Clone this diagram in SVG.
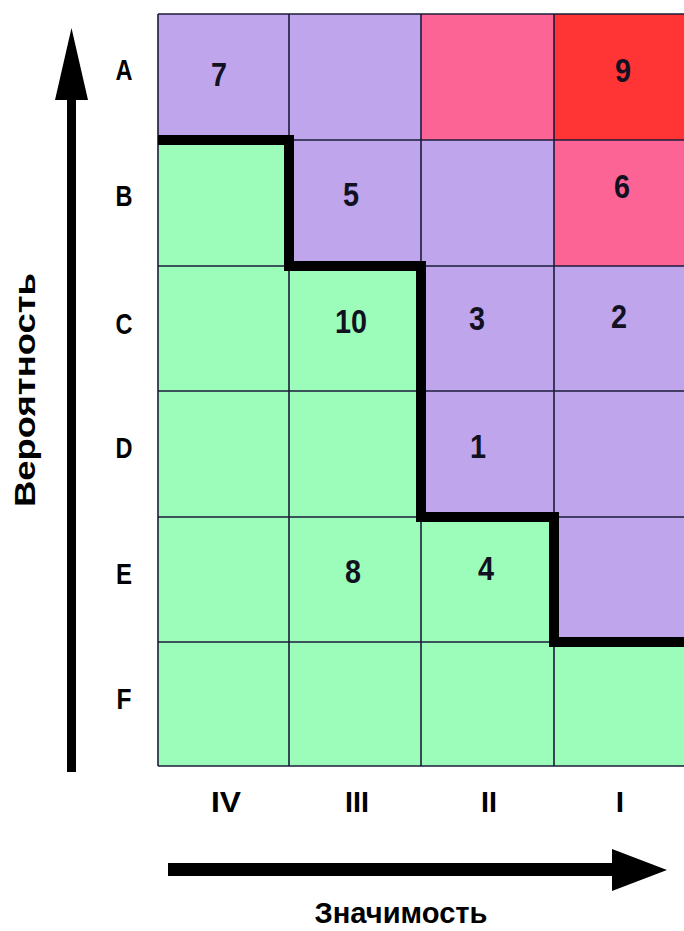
<svg xmlns="http://www.w3.org/2000/svg" width="684" height="931" viewBox="0 0 684 931">
<style>
.p{fill:#BEA5EC}.g{fill:#9BFDB9}.k{fill:#FC6496}.r{fill:#FF3434}
.grid{stroke:#1c1c3a;stroke-width:1.6;fill:none}
.num{font-family:"Liberation Sans",Arial,sans-serif;font-weight:bold;font-size:34px;fill:#111122;text-anchor:middle}
.lab{font-family:"Liberation Sans",Arial,sans-serif;font-weight:bold;font-size:30px;fill:#000;text-anchor:middle}
.ttl{font-family:"Liberation Sans",Arial,sans-serif;font-weight:bold;font-size:30px;fill:#000;text-anchor:middle}
</style>
<rect width="684" height="931" fill="#ffffff"/>
<g id="cells">
<g id="A-IV"><rect class="p" x="158" y="14" width="131" height="126"/><text class="num" x="219" y="86" textLength="16" lengthAdjust="spacingAndGlyphs">7</text></g>
<g id="A-III"><rect class="p" x="289" y="14" width="132" height="126"/></g>
<g id="A-II"><rect class="k" x="421" y="14" width="133" height="126"/></g>
<g id="A-I"><rect class="r" x="554" y="14" width="132" height="126"/><text class="num" x="623" y="82" textLength="16" lengthAdjust="spacingAndGlyphs">9</text></g>
<g id="B-IV"><rect class="g" x="158" y="140" width="131" height="126"/></g>
<g id="B-III"><rect class="p" x="289" y="140" width="132" height="126"/><text class="num" x="351" y="206" textLength="16" lengthAdjust="spacingAndGlyphs">5</text></g>
<g id="B-II"><rect class="p" x="421" y="140" width="133" height="126"/></g>
<g id="B-I"><rect class="k" x="554" y="140" width="132" height="126"/><text class="num" x="622" y="198" textLength="16" lengthAdjust="spacingAndGlyphs">6</text></g>
<g id="C-IV"><rect class="g" x="158" y="266" width="131" height="125"/></g>
<g id="C-III"><rect class="g" x="289" y="266" width="132" height="125"/><text class="num" x="351" y="333" textLength="32" lengthAdjust="spacingAndGlyphs">10</text></g>
<g id="C-II"><rect class="p" x="421" y="266" width="133" height="125"/><text class="num" x="477" y="330" textLength="16" lengthAdjust="spacingAndGlyphs">3</text></g>
<g id="C-I"><rect class="p" x="554" y="266" width="132" height="125"/><text class="num" x="619" y="328" textLength="16" lengthAdjust="spacingAndGlyphs">2</text></g>
<g id="D-IV"><rect class="g" x="158" y="391" width="131" height="126"/></g>
<g id="D-III"><rect class="g" x="289" y="391" width="132" height="126"/></g>
<g id="D-II"><rect class="p" x="421" y="391" width="133" height="126"/><text class="num" x="478" y="458" textLength="16" lengthAdjust="spacingAndGlyphs">1</text></g>
<g id="D-I"><rect class="p" x="554" y="391" width="132" height="126"/></g>
<g id="E-IV"><rect class="g" x="158" y="517" width="131" height="125"/></g>
<g id="E-III"><rect class="g" x="289" y="517" width="132" height="125"/><text class="num" x="353" y="583" textLength="16" lengthAdjust="spacingAndGlyphs">8</text></g>
<g id="E-II"><rect class="g" x="421" y="517" width="133" height="125"/><text class="num" x="486" y="580" textLength="16" lengthAdjust="spacingAndGlyphs">4</text></g>
<g id="E-I"><rect class="p" x="554" y="517" width="132" height="125"/></g>
<g id="F-IV"><rect class="g" x="158" y="642" width="131" height="124"/></g>
<g id="F-III"><rect class="g" x="289" y="642" width="132" height="124"/></g>
<g id="F-II"><rect class="g" x="421" y="642" width="133" height="124"/></g>
<g id="F-I"><rect class="g" x="554" y="642" width="132" height="124"/></g>
</g>
<g id="gridlines" class="grid">
<path d="M158,14 H686 M158,140 H686 M158,266 H686 M158,391 H686 M158,517 H686 M158,642 H686 M158,766 H686"/>
<path d="M158,14 V766 M289,14 V766 M421,14 V766 M554,14 V766"/>
</g>
<g id="boundary">
<path d="M158,140 H289 V266 H421 V517 H554 V642 H686" fill="none" stroke="#000" stroke-width="10" stroke-linejoin="miter"/>
</g>
<g id="row-labels">
<text class="lab" x="124" y="80" textLength="17" lengthAdjust="spacingAndGlyphs">A</text>
<text class="lab" x="124" y="206" textLength="17" lengthAdjust="spacingAndGlyphs">B</text>
<text class="lab" x="124" y="334" textLength="17" lengthAdjust="spacingAndGlyphs">C</text>
<text class="lab" x="124" y="458" textLength="17" lengthAdjust="spacingAndGlyphs">D</text>
<text class="lab" x="124" y="584" textLength="16" lengthAdjust="spacingAndGlyphs">E</text>
<text class="lab" x="124" y="709" textLength="15" lengthAdjust="spacingAndGlyphs">F</text>
</g>
<g id="col-labels">
<text class="lab" x="226" y="812" textLength="30" lengthAdjust="spacingAndGlyphs">IV</text>
<text class="lab" x="357" y="812" textLength="24" lengthAdjust="spacingAndGlyphs">III</text>
<text class="lab" x="489" y="812" textLength="16" lengthAdjust="spacingAndGlyphs">II</text>
<text class="lab" x="620" y="812">I</text>
</g>
<g id="connectors">
<rect x="67" y="98" width="9" height="674" fill="#000"/>
<polygon points="71.5,28 88,100 55,100" fill="#000"/>
<rect x="168" y="863" width="446" height="13" fill="#000"/>
<polygon points="667,870 612,849 612,891" fill="#000"/>
</g>
<text class="ttl" x="401" y="923" textLength="173" lengthAdjust="spacingAndGlyphs">Значимость</text>
<text class="ttl" transform="translate(35,390) rotate(-90)" x="0" y="0" textLength="234" lengthAdjust="spacingAndGlyphs">Вероятность</text>
</svg>
